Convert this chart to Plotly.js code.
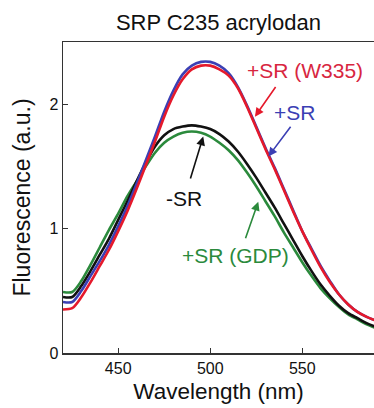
<!DOCTYPE html>
<html><head><meta charset="utf-8">
<script src="https://cdn.plot.ly/plotly-3.0.1.min.js"></script>
<style>html,body{margin:0;padding:0;background:#fff}#chart{width:374px;height:408px}</style>
</head><body><div id="chart"></div>
<script>
const wavelength = [420,425,430,435,440,445,450,455,460,465,470,475,480,485,490,495,500,505,510,515,520,525,530,535,540,545,550,555,560,565,570,575,580,585,590];
const srW335 = [0.35,0.36,0.45,0.57,0.70,0.83,0.98,1.14,1.32,1.51,1.70,1.90,2.07,2.20,2.28,2.31,2.31,2.28,2.23,2.13,1.98,1.81,1.64,1.48,1.31,1.14,0.98,0.83,0.69,0.57,0.47,0.39,0.33,0.29,0.26];
const srPlus = [0.41,0.41,0.50,0.62,0.74,0.87,1.02,1.18,1.36,1.55,1.74,1.94,2.11,2.24,2.31,2.34,2.34,2.31,2.25,2.14,1.99,1.82,1.65,1.49,1.32,1.15,0.98,0.84,0.70,0.58,0.47,0.39,0.33,0.29,0.26];
const srMinus = [0.45,0.45,0.54,0.66,0.79,0.92,1.07,1.22,1.38,1.53,1.66,1.75,1.80,1.82,1.83,1.82,1.80,1.76,1.70,1.62,1.52,1.41,1.29,1.17,1.04,0.91,0.78,0.66,0.55,0.46,0.38,0.32,0.28,0.24,0.21];
const srGDP = [0.49,0.49,0.58,0.71,0.85,0.99,1.12,1.26,1.38,1.50,1.61,1.69,1.74,1.77,1.78,1.77,1.74,1.69,1.63,1.55,1.45,1.34,1.22,1.10,0.97,0.85,0.73,0.62,0.52,0.44,0.37,0.31,0.27,0.23,0.20];
const xTicks = [450,500,550];
const yTicks = [0,1,2];

const traces = [
  {x: wavelength, y: srGDP, color: '#2b8a3c'},
  {x: wavelength, y: srMinus, color: '#111111'},
  {x: wavelength, y: srPlus, color: '#3b3fb4'},
  {x: wavelength, y: srW335, color: '#e5192b'}
].map(t => ({x: t.x, y: t.y, type: 'scatter', mode: 'lines', line: {color: t.color, width: 2.6, shape: 'spline', smoothing: 0.8}, hoverinfo: 'skip'}));

const F = 'Liberation Sans, Arial, Helvetica, sans-serif';
function label(text, x, y, color){ return {text, x, y, xref:'x', yref:'y', showarrow:false, font:{family:F, size:21, color}}; }
function arrow(x, y, ax, ay, color){ return {text:'', x, y, ax, ay, xref:'x', yref:'y', axref:'x', ayref:'y', showarrow:true, arrowhead:2, arrowsize:1.1, arrowwidth:1.6, arrowcolor:color}; }

const layout = {
  width: 374, height: 408,
  margin: {l: 63, r: 0, t: 42, b: 55},
  paper_bgcolor: '#fff', plot_bgcolor: '#fff',
  showlegend: false,
  title: {text: 'SRP C235 acrylodan', x: 0.584, xanchor: 'center', y: 0.946, yanchor: 'middle', font: {family: F, size: 22, color: '#111'}},
  xaxis: {range: [420, 589], tickvals: xTicks, ticks: 'inside', ticklen: 5, tickwidth: 1.3, tickcolor: '#333',
          showline: true, linecolor: '#333', linewidth: 1.5, mirror: true, showgrid: false, zeroline: false,
          tickfont: {family: F, size: 16, color: '#111'},
          title: {text: 'Wavelength (nm)', standoff: 7, font: {family: F, size: 22.5, color: '#111'}}},
  yaxis: {range: [0, 2.5], tickvals: yTicks, ticks: 'inside', ticklen: 5, tickwidth: 1.3, tickcolor: '#333',
          showline: true, linecolor: '#333', linewidth: 1.5, showgrid: false, zeroline: false,
          tickfont: {family: F, size: 16, color: '#111'},
          title: {text: 'Fluorescence (a.u.)', standoff: 12, font: {family: F, size: 23, color: '#111'}}},
  annotations: [
    label('+SR (W335)', 551.5, 2.27, '#d8263f'),
    label('+SR', 546, 1.93, '#3b3fb4'),
    label('-SR', 485.8, 1.245, '#111'),
    label('+SR (GDP)', 514, 0.787, '#2b8a3c'),
    arrow(524.3, 1.90, 536.1, 2.15, '#e5192b'),
    arrow(531.6, 1.58, 544.3, 1.83, '#3b3fb4'),
    arrow(496.2, 1.74, 489, 1.39, '#111'),
    arrow(526.1, 1.215, 518.9, 0.91, '#2b8a3c')
  ]
};
Plotly.newPlot('chart', traces, layout, {staticPlot: true, displayModeBar: false});
</script></body></html>
